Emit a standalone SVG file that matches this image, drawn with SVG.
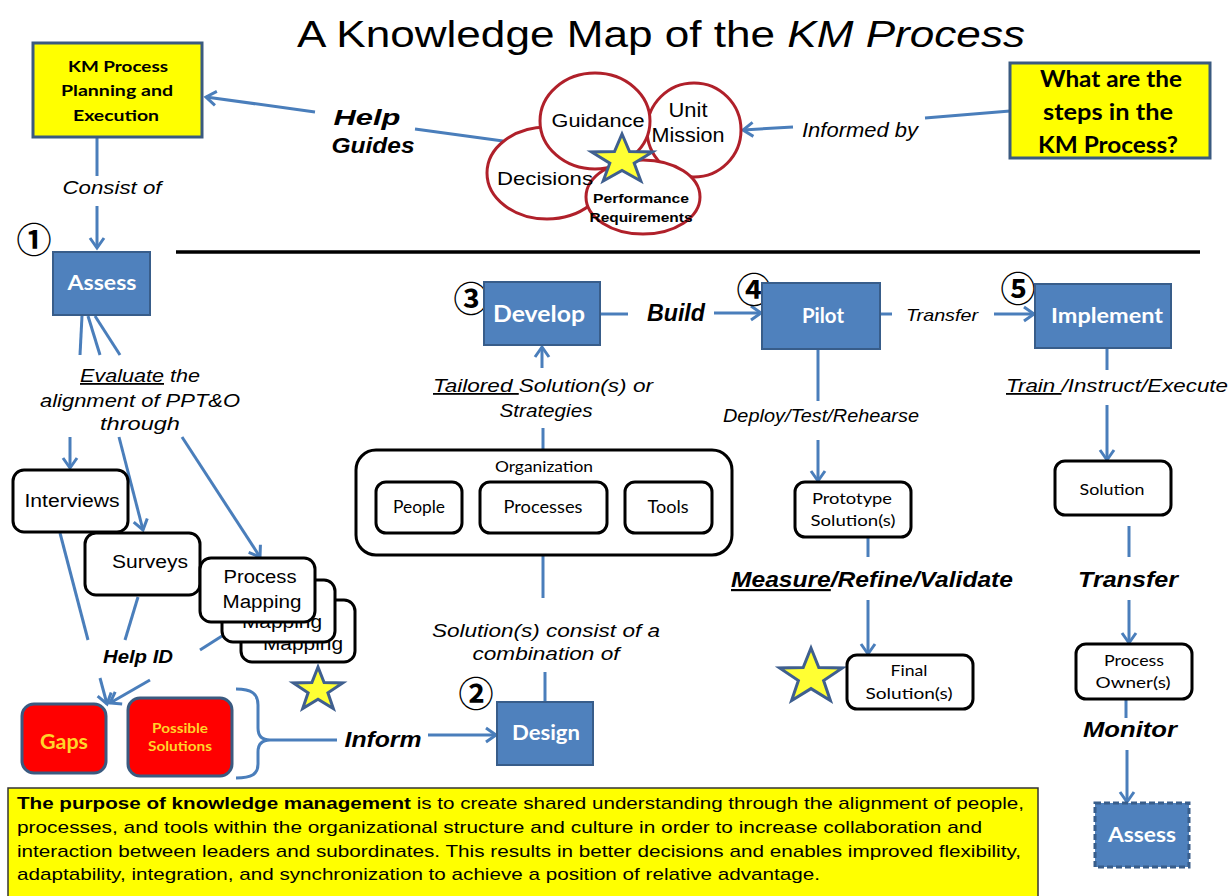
<svg xmlns="http://www.w3.org/2000/svg" width="1231" height="896" viewBox="0 0 1231 896">
<style>
.ar{font-family:"Liberation Sans",Arial,sans-serif;fill:#000}
.it{font-style:italic}
.b{font-weight:bold}
.cal{font-family:Lato,"Liberation Sans",sans-serif;fill:#000}
.wt{font-family:Lato,"Liberation Sans",sans-serif;font-weight:bold;fill:#fff}
.num{font-family:"Noto Sans CJK SC","DejaVu Sans",sans-serif;font-weight:bold;fill:#000}
.con{stroke:#4A7EBB;stroke-width:3;fill:none}
.arr{marker-end:url(#ah)}
.ybox{fill:#FFFF00;stroke:#3A5A80;stroke-width:3}
.bbox{fill:#4F81BD;stroke:#385D8A;stroke-width:2}
.wbox{fill:#fff;stroke:#000;stroke-width:3}
.circ{fill:#fff;stroke:#B0202A;stroke-width:3}
.star{fill:#FFFF33;stroke:#3F5F8F;stroke-width:3;stroke-linejoin:miter}
.ul{text-decoration:underline}
.gold{fill:#FFD42A}
</style>
<defs>
<marker id="ah" markerUnits="userSpaceOnUse" markerWidth="18" markerHeight="18" viewBox="0 0 18 18" refX="14" refY="9" orient="auto">
<path d="M4,2 L14,9 L4,16" fill="none" stroke="#4A7EBB" stroke-width="3"/>
</marker>
</defs>
<rect width="1231" height="896" fill="#fff"/>

<text class="ar" x="661" y="47" font-size="37" text-anchor="middle" textLength="728" lengthAdjust="spacingAndGlyphs">A Knowledge Map of the <tspan font-style="italic">KM Process</tspan></text>

<line x1="176" y1="252" x2="1200" y2="252" stroke="#000" stroke-width="3.5"/>

<g id="connectors">
<line class="con arr" x1="315" y1="112" x2="206" y2="97"/>
<line class="con" x1="415" y1="129" x2="503" y2="141"/>
<line class="con" x1="1010" y1="111" x2="925" y2="118"/>
<line class="con arr" x1="793" y1="127" x2="743" y2="130"/>
<line class="con" x1="97" y1="137" x2="97" y2="176"/>
<line class="con arr" x1="97" y1="206" x2="97" y2="248"/>
<line class="con" x1="82" y1="316" x2="80" y2="355"/>
<line class="con" x1="88" y1="316" x2="100" y2="355"/>
<line class="con" x1="95" y1="316" x2="120" y2="355"/>
<line class="con arr" x1="70" y1="437" x2="70" y2="468"/>
<line class="con arr" x1="119" y1="437" x2="143" y2="530"/>
<line class="con arr" x1="182" y1="437" x2="260" y2="557"/>
<line class="con" x1="60" y1="533" x2="88" y2="640"/>
<line class="con" x1="138" y1="597" x2="125" y2="640"/>
<line class="con" x1="222" y1="636" x2="200" y2="650"/>
<line class="con arr" x1="100" y1="678" x2="107" y2="704"/>
<line class="con arr" x1="150" y1="680" x2="110" y2="703"/>
<path class="con" d="M236,689 C252,689 258,694 258,705 L258,728 C258,736 262,740 270,740 C262,740 258,744 258,752 L258,764 C258,774 252,778 236,778"/>
<line class="con" x1="270" y1="740" x2="337" y2="740"/>
<line class="con arr" x1="428" y1="735" x2="496" y2="735"/>
<line class="con" x1="545" y1="672" x2="545" y2="702"/>
<line class="con" x1="543" y1="555" x2="543" y2="598"/>
<line class="con" x1="543" y1="428" x2="543" y2="450"/>
<line class="con arr" x1="542" y1="368" x2="542" y2="347"/>
<line class="con" x1="600" y1="314" x2="628" y2="314"/>
<line class="con arr" x1="714" y1="313" x2="761" y2="313"/>
<line class="con" x1="880" y1="314" x2="892" y2="314"/>
<line class="con arr" x1="994" y1="314" x2="1034" y2="314"/>
<line class="con" x1="818" y1="349" x2="818" y2="401"/>
<line class="con arr" x1="818" y1="440" x2="818" y2="481"/>
<line class="con" x1="868" y1="537" x2="868" y2="557"/>
<line class="con arr" x1="868" y1="600" x2="868" y2="654"/>
<line class="con" x1="1107" y1="348" x2="1107" y2="370"/>
<line class="con arr" x1="1107" y1="405" x2="1107" y2="460"/>
<line class="con" x1="1129" y1="526" x2="1129" y2="557"/>
<line class="con arr" x1="1129" y1="600" x2="1129" y2="643"/>
<line class="con" x1="1126" y1="699" x2="1126" y2="718"/>
<line class="con arr" x1="1127" y1="750" x2="1127" y2="802"/>
</g>

<g id="km-planning">
<rect class="ybox" x="33" y="43" width="169" height="94"/>
<text class="cal b" x="118" y="72" font-size="16" text-anchor="middle" textLength="100" lengthAdjust="spacingAndGlyphs">KM Process</text>
<text class="cal b" x="117" y="96" font-size="16" text-anchor="middle" textLength="112" lengthAdjust="spacingAndGlyphs">Planning and</text>
<text class="cal b" x="116" y="121" font-size="16" text-anchor="middle" textLength="86" lengthAdjust="spacingAndGlyphs">Execution</text>
</g>

<g id="help-guides">
<text class="ar it b" x="367" y="125" font-size="22" text-anchor="middle" textLength="67" lengthAdjust="spacingAndGlyphs">Help</text>
<text class="ar it b" x="373" y="153" font-size="22" text-anchor="middle" textLength="83" lengthAdjust="spacingAndGlyphs">Guides</text>
</g>

<g id="circles">
<ellipse class="circ" cx="694" cy="130" rx="47" ry="47"/>
<ellipse class="circ" cx="547" cy="173" rx="60" ry="46"/>
<ellipse class="circ" cx="595" cy="121" rx="55" ry="48"/>
<ellipse class="circ" cx="643" cy="197" rx="57" ry="37"/>
<text class="ar" x="598" y="127" font-size="18" text-anchor="middle" textLength="93" lengthAdjust="spacingAndGlyphs">Guidance</text>
<text class="ar" x="688" y="117" font-size="20" text-anchor="middle" textLength="39" lengthAdjust="spacingAndGlyphs">Unit</text>
<text class="ar" x="688" y="142" font-size="20" text-anchor="middle" textLength="73" lengthAdjust="spacingAndGlyphs">Mission</text>
<text class="ar" x="545" y="185" font-size="19" text-anchor="middle" textLength="96" lengthAdjust="spacingAndGlyphs">Decisions</text>
<text class="ar b" x="641" y="203" font-size="13" text-anchor="middle" textLength="96" lengthAdjust="spacingAndGlyphs">Performance</text>
<text class="ar b" x="641" y="222" font-size="13" text-anchor="middle" textLength="103" lengthAdjust="spacingAndGlyphs">Requirements</text>
<polygon class="star" points="622,134 629.5,151.6 652.4,152 634.2,163.2 640.8,181 622,170.4 603.2,181 609.8,163.2 591.6,152 614.5,151.6"/>
</g>

<g id="informed-by">
<text class="ar it" x="860" y="137" font-size="20" text-anchor="middle" textLength="116" lengthAdjust="spacingAndGlyphs">Informed by</text>
</g>

<g id="steps-question">
<rect class="ybox" x="1010" y="63" width="200" height="95"/>
<text class="cal b" x="1111" y="87" font-size="22" text-anchor="middle" textLength="142" lengthAdjust="spacingAndGlyphs">What are the</text>
<text class="cal b" x="1108" y="120" font-size="22" text-anchor="middle" textLength="130" lengthAdjust="spacingAndGlyphs">steps in the</text>
<text class="cal b" x="1108" y="153" font-size="22" text-anchor="middle" textLength="140" lengthAdjust="spacingAndGlyphs">KM Process?</text>
</g>

<g id="consist-of">
<text class="ar it" x="112" y="194" font-size="18" text-anchor="middle" textLength="99" lengthAdjust="spacingAndGlyphs">Consist of</text>
</g>

<g id="assess">
<text class="num" x="34" y="253" font-size="35" text-anchor="middle">①</text>
<rect class="bbox" x="53" y="252" width="97" height="63"/>
<text class="wt" x="102" y="290" font-size="20" text-anchor="middle" textLength="69" lengthAdjust="spacingAndGlyphs">Assess</text>
</g>

<g id="evaluate">
<text class="ar it" x="140" y="382" font-size="18" text-anchor="middle" textLength="120" lengthAdjust="spacingAndGlyphs"><tspan class="ul">Evaluate</tspan> the</text>
<text class="ar it" x="140" y="407" font-size="18" text-anchor="middle" textLength="200" lengthAdjust="spacingAndGlyphs">alignment of PPT&amp;O</text>
<text class="ar it" x="140" y="430" font-size="18" text-anchor="middle" textLength="80" lengthAdjust="spacingAndGlyphs">through</text>
</g>

<g id="interviews">
<rect class="wbox" x="13" y="470" width="115" height="62" rx="11"/>
<text class="ar" x="72" y="507" font-size="18" text-anchor="middle" textLength="95" lengthAdjust="spacingAndGlyphs">Interviews</text>
</g>

<g id="surveys">
<rect class="wbox" x="85" y="533" width="115" height="62" rx="11"/>
<text class="ar" x="150" y="568" font-size="18" text-anchor="middle" textLength="76" lengthAdjust="spacingAndGlyphs">Surveys</text>
</g>

<g id="process-mapping">
<rect class="wbox" x="241" y="600" width="114" height="62" rx="11"/>
<text class="ar" x="303" y="650" font-size="18" text-anchor="middle" textLength="80" lengthAdjust="spacingAndGlyphs">Mapping</text>
<rect class="wbox" x="222" y="580" width="113" height="62" rx="11"/>
<text class="ar" x="282" y="628" font-size="18" text-anchor="middle" textLength="80" lengthAdjust="spacingAndGlyphs">Mapping</text>
<rect class="wbox" x="200" y="558" width="115" height="64" rx="11"/>
<text class="ar" x="260" y="583" font-size="18" text-anchor="middle" textLength="73" lengthAdjust="spacingAndGlyphs">Process</text>
<text class="ar" x="262" y="608" font-size="18" text-anchor="middle" textLength="79" lengthAdjust="spacingAndGlyphs">Mapping</text>
</g>

<g id="help-id">
<text class="ar it b" x="138" y="663" font-size="18" text-anchor="middle" textLength="70" lengthAdjust="spacingAndGlyphs">Help ID</text>
</g>

<g id="gaps">
<rect x="22" y="704" width="84" height="69" rx="12" fill="#FF0000" stroke="#3A5A80" stroke-width="3"/>
<text class="cal b gold" x="64" y="749" font-size="20" text-anchor="middle" textLength="48" lengthAdjust="spacingAndGlyphs">Gaps</text>
</g>

<g id="possible-solutions">
<rect x="128" y="698" width="104" height="78" rx="12" fill="#FF0000" stroke="#3A5A80" stroke-width="3"/>
<text class="cal b gold" x="180" y="733" font-size="14" text-anchor="middle" textLength="56" lengthAdjust="spacingAndGlyphs">Possible</text>
<text class="cal b gold" x="180" y="751" font-size="14" text-anchor="middle" textLength="64" lengthAdjust="spacingAndGlyphs">Solutions</text>
</g>

<polygon class="star" points="318,667 324.1,682.6 342.7,682.9 327.9,692.8 333.3,708.6 318,699.2 302.7,708.6 308.1,692.8 293.3,682.9 311.9,682.6"/>

<g id="inform">
<text class="ar it b" x="383" y="747" font-size="22" text-anchor="middle" textLength="77" lengthAdjust="spacingAndGlyphs">Inform</text>
</g>

<g id="design">
<text class="num" x="476" y="707" font-size="35" text-anchor="middle">②</text>
<rect class="bbox" x="497" y="702" width="96" height="63"/>
<text class="wt" x="546" y="740" font-size="21" text-anchor="middle" textLength="68" lengthAdjust="spacingAndGlyphs">Design</text>
</g>

<g id="solution-consist">
<text class="ar it" x="546" y="637" font-size="18" text-anchor="middle" textLength="228" lengthAdjust="spacingAndGlyphs">Solution(s) consist of a</text>
<text class="ar it" x="546" y="660" font-size="18" text-anchor="middle" textLength="147" lengthAdjust="spacingAndGlyphs">combination of</text>
</g>

<g id="organization">
<rect class="wbox" x="356" y="450" width="376" height="105" rx="20"/>
<text class="cal" x="544" y="472" font-size="16" text-anchor="middle" textLength="98" lengthAdjust="spacingAndGlyphs">Organization</text>
</g>
<g id="people">
<rect class="wbox" x="376" y="482" width="86" height="51" rx="10"/>
<text class="cal" x="419" y="513" font-size="17" text-anchor="middle" textLength="52" lengthAdjust="spacingAndGlyphs">People</text>
</g>
<g id="processes">
<rect class="wbox" x="480" y="482" width="127" height="51" rx="10"/>
<text class="cal" x="543" y="513" font-size="17" text-anchor="middle" textLength="79" lengthAdjust="spacingAndGlyphs">Processes</text>
</g>
<g id="tools">
<rect class="wbox" x="625" y="482" width="87" height="51" rx="10"/>
<text class="cal" x="668" y="513" font-size="17" text-anchor="middle" textLength="41" lengthAdjust="spacingAndGlyphs">Tools</text>
</g>

<g id="tailored">
<text class="ar it" x="543" y="392" font-size="18" text-anchor="middle" textLength="220" lengthAdjust="spacingAndGlyphs"><tspan class="ul">Tailored </tspan>Solution(s) or</text>
<text class="ar it" x="546" y="417" font-size="18" text-anchor="middle" textLength="93" lengthAdjust="spacingAndGlyphs">Strategies</text>
</g>

<g id="develop">
<text class="num" x="471" y="312" font-size="35" text-anchor="middle">③</text>
<rect class="bbox" x="484" y="282" width="116" height="63"/>
<text class="wt" x="539" y="322" font-size="22" text-anchor="middle" textLength="92" lengthAdjust="spacingAndGlyphs">Develop</text>
</g>

<g id="build">
<text class="ar it b" x="676" y="321" font-size="23" text-anchor="middle" textLength="58" lengthAdjust="spacingAndGlyphs">Build</text>
</g>

<g id="pilot">
<text class="num" x="754" y="303" font-size="35" text-anchor="middle">④</text>
<rect class="bbox" x="762" y="283" width="118" height="66"/>
<text class="wt" x="823" y="323" font-size="21" text-anchor="middle" textLength="42" lengthAdjust="spacingAndGlyphs">Pilot</text>
</g>

<g id="transfer-small">
<text class="ar it" x="942" y="321" font-size="17" text-anchor="middle" textLength="72" lengthAdjust="spacingAndGlyphs">Transfer</text>
</g>

<g id="implement">
<text class="num" x="1018" y="302" font-size="35" text-anchor="middle">⑤</text>
<rect class="bbox" x="1035" y="284" width="136" height="64"/>
<text class="wt" x="1107" y="323" font-size="21" text-anchor="middle" textLength="112" lengthAdjust="spacingAndGlyphs">Implement</text>
</g>

<g id="deploy">
<text class="ar it" x="821" y="422" font-size="18" text-anchor="middle" textLength="196" lengthAdjust="spacingAndGlyphs">Deploy/Test/Rehearse</text>
</g>

<g id="train">
<text class="ar it" x="1117" y="392" font-size="18" text-anchor="middle" textLength="222" lengthAdjust="spacingAndGlyphs"><tspan class="ul">Train </tspan>/Instruct/Execute</text>
</g>

<g id="prototype">
<rect class="wbox" x="795" y="482" width="116" height="55" rx="10"/>
<text class="cal" x="852" y="504" font-size="16" text-anchor="middle" textLength="80" lengthAdjust="spacingAndGlyphs">Prototype</text>
<text class="cal" x="853" y="526" font-size="16" text-anchor="middle" textLength="85" lengthAdjust="spacingAndGlyphs">Solution(s)</text>
</g>

<g id="measure">
<text class="ar it b" x="872" y="587" font-size="22" text-anchor="middle" textLength="282" lengthAdjust="spacingAndGlyphs"><tspan class="ul">Measure</tspan>/Refine/Validate</text>
</g>

<g id="final">
<polygon class="star" points="811,648 818.8,667.6 842.4,668 823.6,680.6 830.4,700.5 811,688.6 791.6,700.5 798.4,680.6 779.6,668 803.2,667.6"/>
<rect class="wbox" x="847" y="655" width="126" height="54" rx="10"/>
<text class="cal" x="909" y="676" font-size="16" text-anchor="middle" textLength="37" lengthAdjust="spacingAndGlyphs">Final</text>
<text class="cal" x="909" y="699" font-size="16" text-anchor="middle" textLength="87" lengthAdjust="spacingAndGlyphs">Solution(s)</text>
</g>

<g id="solution">
<rect class="wbox" x="1055" y="461" width="116" height="54" rx="10"/>
<text class="cal" x="1112" y="495" font-size="16" text-anchor="middle" textLength="65" lengthAdjust="spacingAndGlyphs">Solution</text>
</g>

<g id="transfer-big">
<text class="ar it b" x="1128" y="587" font-size="22" text-anchor="middle" textLength="100" lengthAdjust="spacingAndGlyphs">Transfer</text>
</g>

<g id="process-owners">
<rect class="wbox" x="1076" y="644" width="116" height="55" rx="10"/>
<text class="cal" x="1134" y="666" font-size="16" text-anchor="middle" textLength="60" lengthAdjust="spacingAndGlyphs">Process</text>
<text class="cal" x="1133" y="688" font-size="16" text-anchor="middle" textLength="75" lengthAdjust="spacingAndGlyphs">Owner(s)</text>
</g>

<g id="monitor">
<text class="ar it b" x="1130" y="737" font-size="22" text-anchor="middle" textLength="94" lengthAdjust="spacingAndGlyphs">Monitor</text>
</g>

<g id="assess-final">
<rect x="1095" y="803" width="94" height="64" fill="#4F81BD" stroke="#385D8A" stroke-width="3" stroke-dasharray="6,3"/>
<text class="wt" x="1142" y="842" font-size="20" text-anchor="middle" textLength="68" lengthAdjust="spacingAndGlyphs">Assess</text>
</g>

<g id="purpose">
<rect x="8" y="788" width="1030" height="112" fill="#FFFF00" stroke="#333" stroke-width="1.5"/>
<text class="ar" x="17" y="809" font-size="17" textLength="1007" lengthAdjust="spacingAndGlyphs"><tspan font-weight="bold">The purpose of knowledge management</tspan> is to create shared understanding through the alignment of people,</text>
<text class="ar" x="17" y="833" font-size="17" textLength="965" lengthAdjust="spacingAndGlyphs">processes, and tools within the organizational structure and culture in order to increase collaboration and</text>
<text class="ar" x="17" y="857" font-size="17" textLength="1004" lengthAdjust="spacingAndGlyphs">interaction between leaders and subordinates. This results in better decisions and enables improved flexibility,</text>
<text class="ar" x="17" y="880" font-size="17" textLength="803" lengthAdjust="spacingAndGlyphs">adaptability, integration, and synchronization to achieve a position of relative advantage.</text>
</g>
</svg>
